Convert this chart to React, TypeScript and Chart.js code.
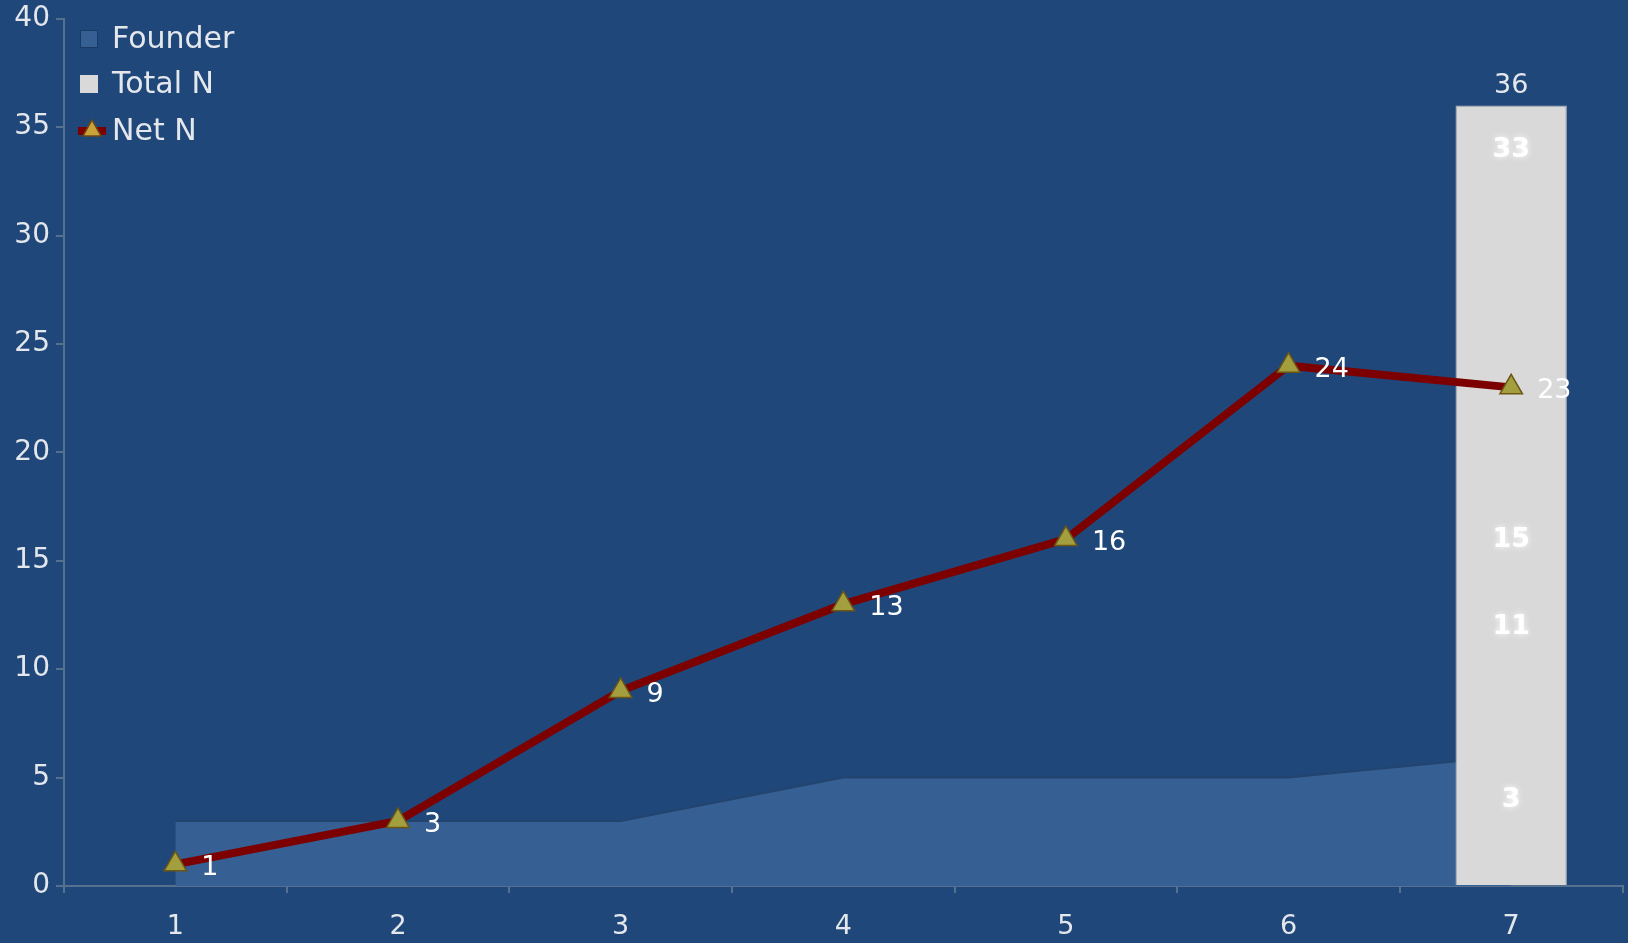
import React, { useEffect, useRef } from "react";
import { Chart, registerables } from "chart.js";

Chart.register(...registerables);

const categories = ["1", "2", "3", "4", "5", "6", "7"];
const founder = [3, 3, 3, 5, 5, 5, 6];
const totalN = [null, null, null, null, null, null, 36];
const netN = [1, 3, 9, 13, 16, 24, 23];
// extra value labels shown inside the Total N column (category 7)
const columnLabels = [33, 15, 11, 3];

const BG = "#1f4779";
const AREA = "#365f93";
const AXIS = "#56708f";
const TEXT = "#e4e7ec";
const LINE = "#7d0000";
const FONT = "'DejaVu Sans', sans-serif";
// canvas is a little larger than the page and shifted up so the plot fills the frame
const SHIFT_Y = 4;

const labelPlugin = {
  id: "valueLabels",
  beforeDraw(chart: any) {
    const { ctx, width, height } = chart;
    ctx.save();
    ctx.fillStyle = BG;
    ctx.fillRect(0, 0, width, height);
    ctx.restore();
  },
  afterDatasetsDraw(chart: any) {
    const { ctx } = chart;
    const yScale = chart.scales.y;
    const xScale = chart.scales.x;
    ctx.save();
    ctx.font = `27px ${FONT}`;
    ctx.textBaseline = "middle";

    // Total N value above the column
    const barMeta = chart.getDatasetMeta(1);
    totalN.forEach((v, i) => {
      if (v == null) return;
      const el = barMeta.data[i];
      ctx.fillStyle = TEXT;
      ctx.textAlign = "center";
      ctx.fillText(String(v), el.x, el.y - 20);
    });

    // labels inside the column
    const x7 = xScale.getPixelForValue(6);
    ctx.font = `bold 27px ${FONT}`;
    ctx.textAlign = "center";
    columnLabels.forEach((v) => {
      const y = yScale.getPixelForValue(v) - 21;
      ctx.shadowColor = "rgba(255,255,255,0.9)";
      ctx.shadowBlur = 6;
      ctx.fillStyle = "#ffffff";
      ctx.fillText(String(v), x7, y);
    });
    ctx.shadowBlur = 0;

    // Net N values to the right of each point
    const lineMeta = chart.getDatasetMeta(2);
    ctx.font = `27px ${FONT}`;
    ctx.textAlign = "left";
    netN.forEach((v, i) => {
      const el = lineMeta.data[i];
      ctx.fillStyle = "#ffffff";
      ctx.fillText(String(v), el.x + 26, el.y + 4);
    });

    // legend
    const items = [
      { label: "Founder", y: 39 + SHIFT_Y, kind: "area" },
      { label: "Total N", y: 84 + SHIFT_Y, kind: "bar" },
      { label: "Net N", y: 131 + SHIFT_Y, kind: "line" },
    ];
    ctx.font = `30px ${FONT}`;
    items.forEach((it) => {
      if (it.kind === "area") {
        ctx.fillStyle = AREA;
        ctx.fillRect(80, it.y - 9, 18, 18);
        ctx.strokeStyle = "#1a3a66";
        ctx.lineWidth = 1;
        ctx.strokeRect(80.5, it.y - 8.5, 17, 17);
      } else if (it.kind === "bar") {
        ctx.fillStyle = "#d9d9d9";
        ctx.fillRect(80, it.y - 9, 18, 18);
      } else {
        ctx.strokeStyle = LINE;
        ctx.lineWidth = 8;
        ctx.beginPath();
        ctx.moveTo(78, it.y);
        ctx.lineTo(106, it.y);
        ctx.stroke();
        ctx.fillStyle = "#c9a23a";
        ctx.strokeStyle = "#6b4a10";
        ctx.lineWidth = 1.5;
        ctx.beginPath();
        ctx.moveTo(92, it.y - 11);
        ctx.lineTo(101, it.y + 5);
        ctx.lineTo(83, it.y + 5);
        ctx.closePath();
        ctx.fill();
        ctx.stroke();
      }
      ctx.fillStyle = TEXT;
      ctx.textAlign = "left";
      ctx.fillText(it.label, 112, it.y + 1);
    });
    ctx.restore();
  },
};

export default function App() {
  const ref = useRef<HTMLCanvasElement>(null);

  useEffect(() => {
    const canvas = ref.current;
    if (!canvas) return;
    const chart = new Chart(canvas, {
      type: "bar",
      data: {
        labels: categories,
        datasets: [
          {
            type: "line",
            label: "Founder",
            data: founder,
            fill: "origin",
            backgroundColor: AREA,
            borderColor: "#23446f",
            borderWidth: 2,
            pointRadius: 0,
            tension: 0,
            order: 3,
          },
          {
            type: "bar",
            label: "Total N",
            data: totalN,
            backgroundColor: "#d9d9d9",
            borderColor: "#bdbdbd",
            borderWidth: 1,
            barPercentage: 0.5,
            categoryPercentage: 1,
            order: 2,
          },
          {
            type: "line",
            label: "Net N",
            data: netN,
            fill: false,
            borderColor: LINE,
            borderWidth: 8,
            pointStyle: "triangle",
            pointRadius: 13,
            pointBackgroundColor: "#a39f3e",
            pointBorderColor: "#6b5616",
            pointBorderWidth: 1.5,
            tension: 0,
            order: 1,
          },
        ] as any,
      },
      options: {
        responsive: false,
        animation: false,
        layout: { padding: { top: 14, right: 0, left: 0, bottom: 0 } },
        plugins: {
          legend: { display: false },
          tooltip: { enabled: false },
        },
        scales: {
          x: {
            offset: true,
            afterFit(scale: any) {
              scale.height = 57;
            },
            grid: {
              offset: true,
              drawOnChartArea: false,
              drawTicks: true,
              tickLength: 7,
              color: AXIS,
              lineWidth: 2,
            },
            border: { display: true, color: AXIS, width: 2 },
            ticks: {
              color: TEXT,
              font: { family: FONT, size: 27 },
              padding: 18,
              maxRotation: 0,
            },
          },
          y: {
            min: 0,
            max: 40,
            afterFit(scale: any) {
              scale.width = 64;
            },
            grid: {
              drawOnChartArea: false,
              drawTicks: true,
              tickLength: 8,
              color: AXIS,
              lineWidth: 2,
            },
            border: { display: true, color: AXIS, width: 2 },
            ticks: {
              stepSize: 5,
              color: TEXT,
              font: { family: FONT, size: 28 },
              padding: 6,
            },
          },
        },
      },
      plugins: [labelPlugin],
    });
    return () => chart.destroy();
  }, []);

  return (
    <div
      style={{
        position: "fixed",
        left: 0,
        top: 0,
        width: 1628,
        height: 943,
        overflow: "hidden",
        background: BG,
      }}
    >
      <canvas
        ref={ref}
        width={1637}
        height={943 + SHIFT_Y}
        style={{ display: "block", marginTop: -SHIFT_Y }}
      />
    </div>
  );
}
